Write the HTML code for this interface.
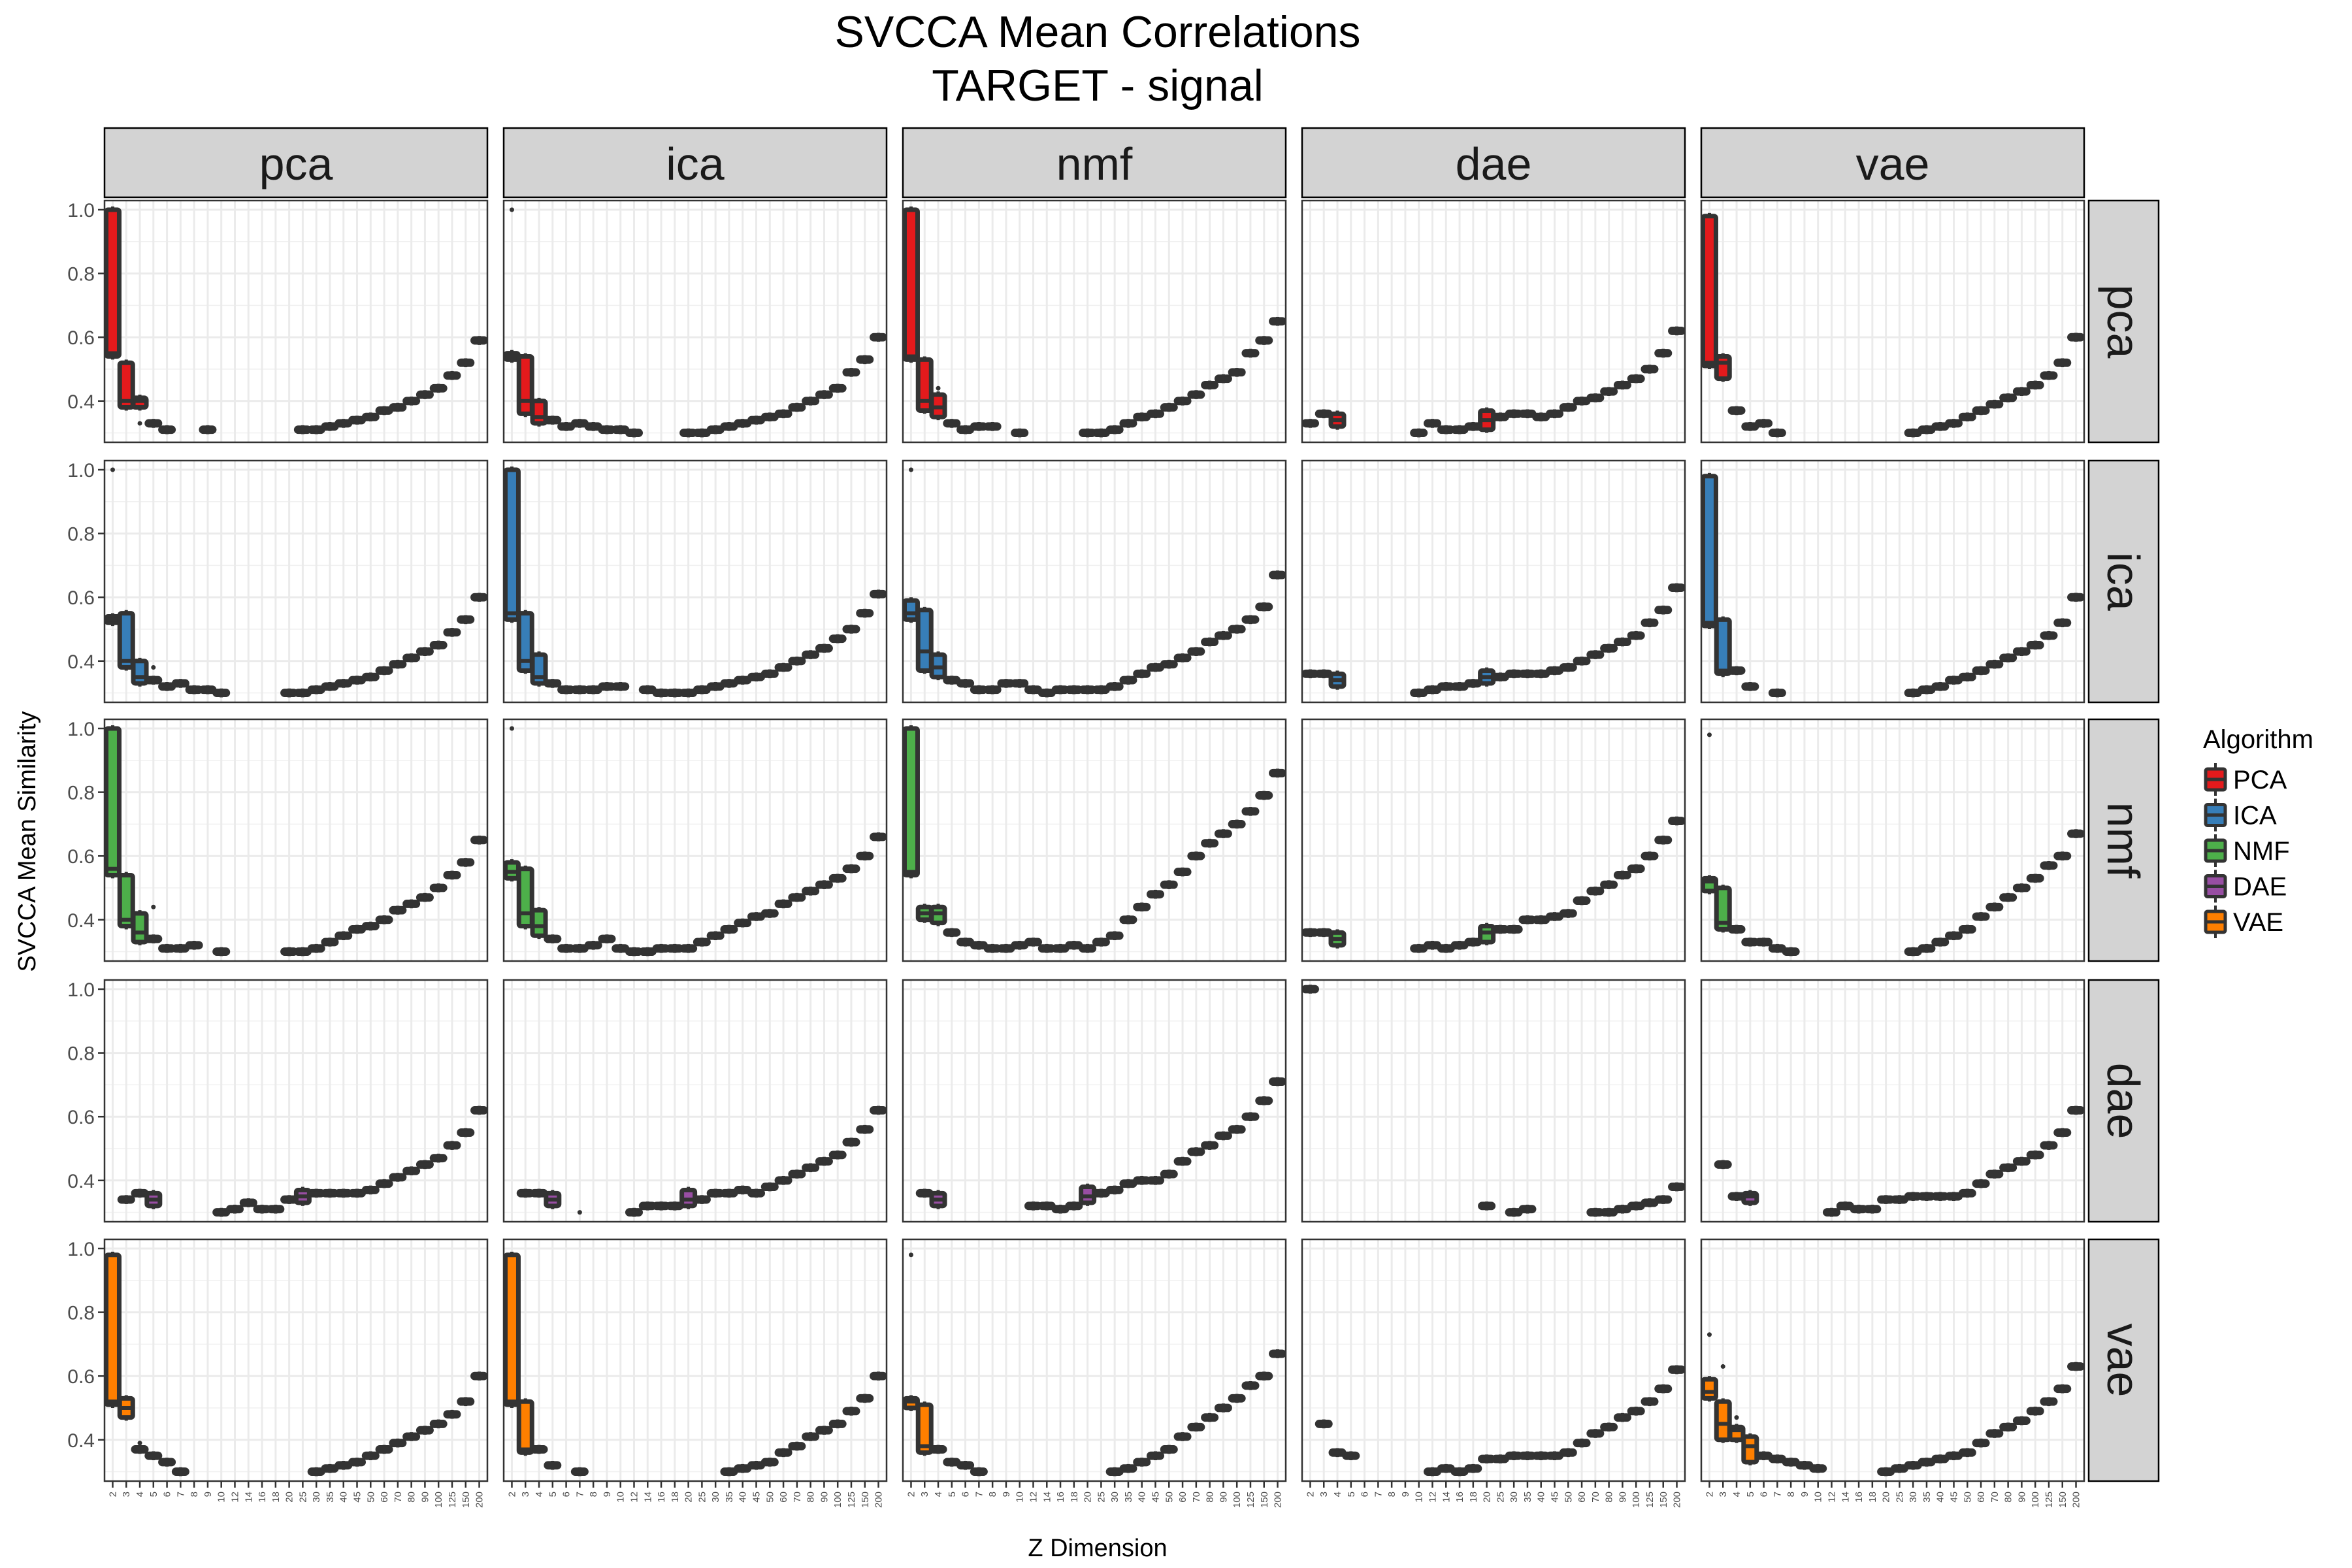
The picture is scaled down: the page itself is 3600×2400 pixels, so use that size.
<!DOCTYPE html>
<html><head><meta charset="utf-8"><style>
html,body{margin:0;padding:0;background:#fff}
svg{display:block;font-family:"Liberation Sans",Arial,sans-serif}
</style></head><body>
<svg id="chart" width="3600" height="2400" viewBox="0 0 3600 2400" xmlns="http://www.w3.org/2000/svg">
<text x="1680" y="72" font-size="68" text-anchor="middle" fill="#000">SVCCA Mean Correlations</text>
<text x="1680" y="154" font-size="68" text-anchor="middle" fill="#000">TARGET - signal</text>
<text x="1680" y="2382" font-size="38" text-anchor="middle" fill="#000">Z Dimension</text>
<text transform="translate(54,1288) rotate(-90)" font-size="38" text-anchor="middle" fill="#000">SVCCA Mean Similarity</text>
<g id="legend"></g>
<g id="panels"></g>
</svg>
<script>
const _ = null;
const dims = ["2","3","4","5","6","7","8","9","10","12","14","16","18","20","25","30","35","40","45","50","60","70","80","90","100","125","150","200"];
const algos = ["pca","ica","nmf","dae","vae"];
const legendLabels = ["PCA","ICA","NMF","DAE","VAE"];
const yTicks = [0.4,0.6,0.8,1.0];
const yTickLabels = ["0.4","0.6","0.8","1.0"];
const colors = ["#e41a1c","#377eb8","#4daf4a","#984ea3","#ff7f00"];

const med_pca_pca = [0.55,0.40,0.40,0.33,0.31,_,_,0.31,_,_,_,_,_,_,0.31,0.31,0.32,0.33,0.34,0.35,0.37,0.38,0.40,0.42,0.44,0.48,0.52,0.59];
const med_pca_ica = [0.54,0.40,0.35,0.34,0.32,0.33,0.32,0.31,0.31,0.30,_,_,_,0.30,0.30,0.31,0.32,0.33,0.34,0.35,0.36,0.38,0.40,0.42,0.44,0.49,0.53,0.60];
const med_pca_nmf = [0.54,0.40,0.38,0.33,0.31,0.32,0.32,_,0.30,_,_,_,_,0.30,0.30,0.31,0.33,0.35,0.36,0.38,0.40,0.42,0.45,0.47,0.49,0.55,0.59,0.65];
const med_pca_dae = [0.33,0.36,0.34,_,_,_,_,_,0.30,0.33,0.31,0.31,0.32,0.34,0.35,0.36,0.36,0.35,0.36,0.38,0.40,0.41,0.43,0.45,0.47,0.50,0.55,0.62];
const med_pca_vae = [0.52,0.52,0.37,0.32,0.33,0.30,_,_,_,_,_,_,_,_,_,0.30,0.31,0.32,0.33,0.35,0.37,0.39,0.41,0.43,0.45,0.48,0.52,0.60];
const med_ica_pca = [0.53,0.40,0.35,0.34,0.32,0.33,0.31,0.31,0.30,_,_,_,_,0.30,0.30,0.31,0.32,0.33,0.34,0.35,0.37,0.39,0.41,0.43,0.45,0.49,0.53,0.60];
const med_ica_ica = [0.55,0.40,0.35,0.33,0.31,0.31,0.31,0.32,0.32,_,0.31,0.30,0.30,0.30,0.31,0.32,0.33,0.34,0.35,0.36,0.38,0.40,0.42,0.44,0.47,0.50,0.55,0.61];
const med_ica_nmf = [0.55,0.43,0.38,0.34,0.33,0.31,0.31,0.33,0.33,0.31,0.30,0.31,0.31,0.31,0.31,0.32,0.34,0.36,0.38,0.39,0.41,0.43,0.46,0.48,0.50,0.53,0.57,0.67];
const med_ica_dae = [0.36,0.36,0.34,_,_,_,_,_,0.30,0.31,0.32,0.32,0.33,0.35,0.35,0.36,0.36,0.36,0.37,0.38,0.40,0.42,0.44,0.46,0.48,0.52,0.56,0.63];
const med_ica_vae = [0.52,0.37,0.37,0.32,_,0.30,_,_,_,_,_,_,_,_,_,0.30,0.31,0.32,0.34,0.35,0.37,0.39,0.41,0.43,0.45,0.48,0.52,0.60];
const med_nmf_pca = [0.56,0.40,0.36,0.34,0.31,0.31,0.32,_,0.30,_,_,_,_,0.30,0.30,0.31,0.33,0.35,0.37,0.38,0.40,0.43,0.45,0.47,0.50,0.54,0.58,0.65];
const med_nmf_ica = [0.55,0.42,0.38,0.34,0.31,0.31,0.32,0.34,0.31,0.30,0.30,0.31,0.31,0.31,0.33,0.35,0.37,0.39,0.41,0.42,0.45,0.47,0.49,0.51,0.53,0.56,0.60,0.66];
const med_nmf_nmf = [0.55,0.42,0.42,0.36,0.33,0.32,0.31,0.31,0.32,0.33,0.31,0.31,0.32,0.31,0.33,0.35,0.40,0.44,0.48,0.51,0.55,0.60,0.64,0.67,0.70,0.74,0.79,0.86];
const med_nmf_dae = [0.36,0.36,0.34,_,_,_,_,_,0.31,0.32,0.31,0.32,0.33,0.36,0.37,0.37,0.40,0.40,0.41,0.42,0.46,0.49,0.51,0.54,0.56,0.60,0.65,0.71];
const med_nmf_vae = [0.52,0.39,0.37,0.33,0.33,0.31,0.30,_,_,_,_,_,_,_,_,0.30,0.31,0.33,0.35,0.37,0.41,0.44,0.47,0.50,0.53,0.57,0.60,0.67];
const med_dae_pca = [_,0.34,0.36,0.34,_,_,_,_,0.30,0.31,0.33,0.31,0.31,0.34,0.35,0.36,0.36,0.36,0.36,0.37,0.39,0.41,0.43,0.45,0.47,0.51,0.55,0.62];
const med_dae_ica = [_,0.36,0.36,0.34,_,_,_,_,_,0.30,0.32,0.32,0.32,0.34,0.34,0.36,0.36,0.37,0.36,0.38,0.40,0.42,0.44,0.46,0.48,0.52,0.56,0.62];
const med_dae_nmf = [_,0.36,0.34,_,_,_,_,_,_,0.32,0.32,0.31,0.32,0.35,0.36,0.37,0.39,0.40,0.40,0.42,0.46,0.49,0.51,0.54,0.56,0.60,0.65,0.71];
const med_dae_dae = [1.0,_,_,_,_,_,_,_,_,_,_,_,_,0.32,_,0.30,0.31,_,_,_,_,0.30,0.30,0.31,0.32,0.33,0.34,0.38];
const med_dae_vae = [_,0.45,0.35,0.35,_,_,_,_,_,0.30,0.32,0.31,0.31,0.34,0.34,0.35,0.35,0.35,0.35,0.36,0.39,0.42,0.44,0.46,0.48,0.51,0.55,0.62];
const med_vae_pca = [0.52,0.50,0.37,0.35,0.33,0.30,_,_,_,_,_,_,_,_,_,0.30,0.31,0.32,0.33,0.35,0.37,0.39,0.41,0.43,0.45,0.48,0.52,0.60];
const med_vae_ica = [0.52,0.37,0.37,0.32,_,0.30,_,_,_,_,_,_,_,_,_,_,0.30,0.31,0.32,0.33,0.36,0.38,0.41,0.43,0.45,0.49,0.53,0.60];
const med_vae_nmf = [0.52,0.38,0.37,0.33,0.32,0.30,_,_,_,_,_,_,_,_,_,0.30,0.31,0.33,0.35,0.37,0.41,0.44,0.47,0.50,0.53,0.57,0.60,0.67];
const med_vae_dae = [_,0.45,0.36,0.35,_,_,_,_,_,0.30,0.31,0.30,0.31,0.34,0.34,0.35,0.35,0.35,0.35,0.36,0.39,0.42,0.44,0.47,0.49,0.52,0.56,0.62];
const med_vae_vae = [0.55,0.45,0.43,0.38,0.35,0.34,0.33,0.32,0.31,_,_,_,_,0.30,0.31,0.32,0.33,0.34,0.35,0.36,0.39,0.42,0.44,0.46,0.49,0.52,0.56,0.63];

const bigBoxes = [
 [0,0,0,0.54,1.0],[0,0,1,0.38,0.52],[0,0,2,0.38,0.41],
 [0,1,0,0.53,0.55],[0,1,1,0.36,0.54],[0,1,2,0.33,0.40],
 [0,2,0,0.53,1.0],[0,2,1,0.37,0.53],[0,2,2,0.35,0.42],
 [0,3,2,0.32,0.36],[0,3,13,0.31,0.37],
 [0,4,0,0.51,0.98],[0,4,1,0.47,0.54],
 [1,0,0,0.52,0.54],[1,0,1,0.38,0.55],[1,0,2,0.33,0.40],
 [1,1,0,0.53,1.0],[1,1,1,0.37,0.55],[1,1,2,0.33,0.42],
 [1,2,0,0.53,0.59],[1,2,1,0.37,0.56],[1,2,2,0.35,0.42],
 [1,3,2,0.32,0.36],[1,3,13,0.33,0.37],
 [1,4,0,0.51,0.98],[1,4,1,0.36,0.53],
 [2,0,0,0.54,1.0],[2,0,1,0.38,0.54],[2,0,2,0.33,0.42],
 [2,1,0,0.53,0.58],[2,1,1,0.38,0.56],[2,1,2,0.35,0.43],
 [2,2,0,0.54,1.0],[2,2,1,0.40,0.44],[2,2,2,0.39,0.44],
 [2,3,2,0.32,0.36],[2,3,13,0.33,0.38],
 [2,4,0,0.49,0.53],[2,4,1,0.37,0.50],
 [3,0,3,0.32,0.36],[3,0,14,0.33,0.37],
 [3,1,3,0.32,0.36],[3,1,13,0.32,0.37],
 [3,2,2,0.32,0.36],[3,2,13,0.33,0.38],
 [3,4,3,0.33,0.36],
 [4,0,0,0.51,0.98],[4,0,1,0.47,0.53],
 [4,1,0,0.51,0.98],[4,1,1,0.36,0.52],
 [4,2,0,0.50,0.53],[4,2,1,0.36,0.51],
 [4,4,0,0.53,0.59],[4,4,1,0.40,0.52],[4,4,2,0.40,0.44],[4,4,3,0.33,0.41]
];
const outliers = [
 [0,1,0,1.0],[1,0,0,1.0],[1,2,0,1.0],[2,1,0,1.0],[2,4,0,0.98],[4,2,0,0.98],[4,4,0,0.73],
 [0,0,2,0.33],[0,2,2,0.44],[1,0,3,0.38],[2,0,3,0.44],[3,1,5,0.30],[4,0,2,0.39],[4,4,1,0.63],[4,4,2,0.47]
];

const meds = [
 [med_pca_pca,med_pca_ica,med_pca_nmf,med_pca_dae,med_pca_vae],
 [med_ica_pca,med_ica_ica,med_ica_nmf,med_ica_dae,med_ica_vae],
 [med_nmf_pca,med_nmf_ica,med_nmf_nmf,med_nmf_dae,med_nmf_vae],
 [med_dae_pca,med_dae_ica,med_dae_nmf,med_dae_dae,med_dae_vae],
 [med_vae_pca,med_vae_ica,med_vae_nmf,med_vae_dae,med_vae_vae]
];

const NS = "http://www.w3.org/2000/svg";
const colX = [160,771,1382,1993,2604], PW = 586;
const rowY = [307,705,1101,1500,1897], PH = 370;
const stripX = 3197;
const step = PW / (dims.length - 1 + 1.2);
function xPos(c, i){ return colX[c] + (i + 0.6) * step; }
function yPos(r, v){ return rowY[r] + 14 + (1 - v) * 488; }
function mk(tag, attrs, parent){ const e = document.createElementNS(NS, tag); for (const k in attrs) e.setAttribute(k, attrs[k]); parent.appendChild(e); return e; }

const root = document.getElementById("panels");
const defs = mk("defs", {}, root);
for (let r = 0; r < 5; r++) for (let c = 0; c < 5; c++) {
  const cp = mk("clipPath", {id: "cp" + r + c}, defs);
  mk("rect", {x: colX[c], y: rowY[r], width: PW, height: PH}, cp);
}

for (let c = 0; c < 5; c++) {
  const g = mk("g", {}, root);
  
  
  mk("rect", {x: colX[c], y: 196, width: PW, height: 106, fill: "#d3d3d3", stroke: "#000", "stroke-width": 2.5}, g);
  const t = mk("text", {x: colX[c] + PW / 2, y: 275, "font-size": 70, "text-anchor": "middle", fill: "#1a1a1a"}, g);
  t.textContent = algos[c];
}
for (let r = 0; r < 5; r++) {
  const g = mk("g", {}, root);
  
  
  mk("rect", {x: stripX, y: rowY[r], width: 107, height: PH, fill: "#d3d3d3", stroke: "#000", "stroke-width": 2.5}, g);
  const t = mk("text", {transform: "translate(" + (stripX + 29) + "," + (rowY[r] + PH / 2) + ") rotate(90)", "font-size": 70, "text-anchor": "middle", fill: "#1a1a1a"}, g);
  t.textContent = algos[r];
}

for (let r = 0; r < 5; r++) for (let c = 0; c < 5; c++) {
  const g = mk("g", {}, root);
  
  
  mk("rect", {x: colX[c], y: rowY[r], width: PW, height: PH, fill: "#fff"}, g);
  const grid = mk("g", {"clip-path": "url(#cp" + r + c + ")"}, g);
  [0.3,0.5,0.7,0.9].forEach(v => mk("line", {x1: colX[c], x2: colX[c] + PW, y1: yPos(r, v), y2: yPos(r, v), stroke: "#f0f0f0", "stroke-width": 1.5}, grid));
  yTicks.forEach(v => mk("line", {x1: colX[c], x2: colX[c] + PW, y1: yPos(r, v), y2: yPos(r, v), stroke: "#ebebeb", "stroke-width": 3}, grid));
  dims.forEach((d, i) => mk("line", {x1: xPos(c, i), x2: xPos(c, i), y1: rowY[r], y2: rowY[r] + PH, stroke: "#ebebeb", "stroke-width": 3}, grid));
  const marks = mk("g", {"clip-path": "url(#cp" + r + c + ")"}, g);
  const m = meds[r][c];
  m.forEach((v, i) => {
    if (v === null) return;
    let lo = v - 0.006, hi = v + 0.006, wlo = v - 0.014, whi = v + 0.014;
    bigBoxes.forEach(b => { if (b[0] === r && b[1] === c && b[2] === i) { lo = b[3]; hi = b[4]; wlo = lo - 0.01; whi = hi + 0.01; } });
    const x = xPos(c, i), bw = 20;
    const bg = mk("g", {}, marks);
    
    
    mk("line", {x1: x, x2: x, y1: yPos(r, whi), y2: yPos(r, wlo), stroke: "#333", "stroke-width": 5}, bg);
    mk("rect", {x: x - bw / 2, y: yPos(r, hi), width: bw, height: Math.max(2, yPos(r, lo) - yPos(r, hi)), fill: colors[r], stroke: "#333", "stroke-width": 7, rx: 3}, bg);
    mk("line", {x1: x - bw / 2, x2: x + bw / 2, y1: yPos(r, v), y2: yPos(r, v), stroke: "#333", "stroke-width": 6}, bg);
  });
  outliers.forEach(o => {
    if (o[0] !== r || o[1] !== c) return;
    const p = mk("circle", {cx: xPos(c, o[2]), cy: yPos(r, o[3]), r: 3.5, fill: "#333"}, marks);
    
    
  });
  mk("rect", {x: colX[c], y: rowY[r], width: PW, height: PH, fill: "none", stroke: "#333", "stroke-width": 2.5}, g);
  if (c === 0) {
    yTicks.forEach((v, k) => {
      mk("line", {x1: colX[0] - 10, x2: colX[0], y1: yPos(r, v), y2: yPos(r, v), stroke: "#333", "stroke-width": 2.5}, g);
      const t = mk("text", {x: colX[0] - 15, y: yPos(r, v) + 11, "font-size": 30, "text-anchor": "end", fill: "#4d4d4d"}, g);
      
      
      t.textContent = yTickLabels[k];
    });
  }
  if (r === 4) {
    dims.forEach((d, i) => {
      const x = xPos(c, i), yb = rowY[4] + PH;
      mk("line", {x1: x, x2: x, y1: yb, y2: yb + 10, stroke: "#333", "stroke-width": 2.5}, g);
      const t = mk("text", {transform: "translate(" + (x + 5) + "," + (yb + 16) + ") rotate(-90)", "font-size": 15, "text-anchor": "end", fill: "#4d4d4d"}, g);
      
      
      t.textContent = d;
    });
  }
}

const lg = document.getElementById("legend");
const lt = mk("text", {x: 3372, y: 1145, "font-size": 40, fill: "#000"}, lg);


lt.textContent = "Algorithm";
legendLabels.forEach((lab, k) => {
  const cy = 1193 + k * 54.5;
  const e = mk("g", {}, lg);
  
  
  mk("line", {x1: 3391, x2: 3391, y1: cy - 25, y2: cy + 25, stroke: "#333", "stroke-width": 4}, e);
  mk("rect", {x: 3376, y: cy - 16, width: 30, height: 32, fill: colors[k], stroke: "#333", "stroke-width": 5, rx: 3}, e);
  mk("line", {x1: 3376, x2: 3406, y1: cy, y2: cy, stroke: "#333", "stroke-width": 5}, e);
  const t = mk("text", {x: 3418, y: cy + 14, "font-size": 40, fill: "#000"}, e);
  t.textContent = lab;
});
</script>
</body></html>
